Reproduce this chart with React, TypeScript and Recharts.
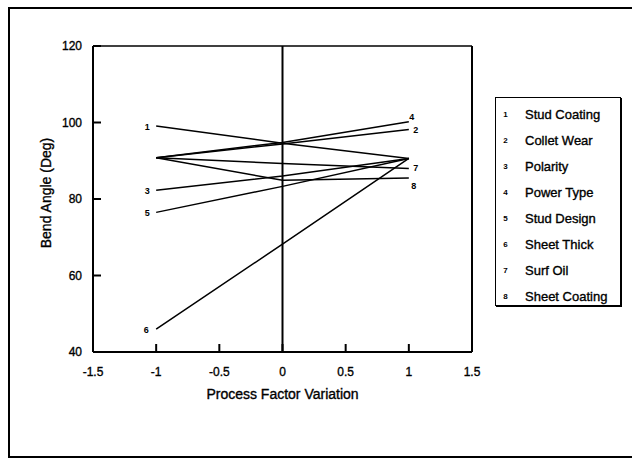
import React from "react";
import { Line, LineChart, ReferenceLine, XAxis, YAxis } from "recharts";

// factor levels on the x axis
const xLevels = [-1, 0, 1];

const factorNames = [
  "Stud Coating",
  "Collet Wear",
  "Polarity",
  "Power Type",
  "Stud Design",
  "Sheet Thick",
  "Surf Oil",
  "Sheet Coating"
];

// bend angle (deg) at each level
const studCoating = [99.1, 94.6, 90.6];
const colletWear = [90.8, 94.4, 98.2];
const polarity = [82.3, 86.0, 90.6];
const powerType = [90.8, 94.8, 100.2];
const studDesign = [76.5, 83.3, 90.6];
const sheetThick = [46.0, 68.2, 90.6];
const surfOil = [90.8, 89.3, 88.0];
const sheetCoating = [90.8, 84.9, 85.5];

const xTicks = [-1.5, -1, -0.5, 0, 0.5, 1, 1.5];
const yTicks = [40, 60, 80, 100, 120];

const seriesValues = [
  studCoating,
  colletWear,
  polarity,
  powerType,
  studDesign,
  sheetThick,
  surfOil,
  sheetCoating
];

const rows = xLevels.map((x, i) => {
  const row: Record<string, number> = { x };
  seriesValues.forEach((vals, s) => {
    row[`s${s + 1}`] = vals[i];
  });
  return row;
});

const FONT = "'Liberation Sans', Arial, Helvetica, sans-serif";
const INK = { stroke: "#000", strokeWidth: 0.35 };

// where each series number sits: which end of the line and a nudge
const labelSpots: Record<number, { index: number; dx: number; dy: number }> = {
  1: { index: 0, dx: -9, dy: 1 },
  2: { index: 2, dx: 7, dy: 1 },
  3: { index: 0, dx: -9, dy: 1 },
  4: { index: 2, dx: 3, dy: -5 },
  5: { index: 0, dx: -9, dy: 1 },
  6: { index: 0, dx: -10, dy: 1 },
  7: { index: 2, dx: 7, dy: 0 },
  8: { index: 2, dx: 5, dy: 8 }
};

function endLabel(num: number) {
  const spot = labelSpots[num];
  return (props: any) => {
    if (props.index !== spot.index) return null;
    return (
      <text
        key={`lbl-${num}-${props.index}`}
        x={props.x + spot.dx}
        y={props.y + spot.dy}
        textAnchor="middle"
        dominantBaseline="central"
        fontFamily={FONT}
        fontSize={9}
        fontWeight="bold"
        fill="#000"
      >
        {num}
      </text>
    );
  };
}

function YTick({ x, y, payload }: any) {
  return (
    <g>
      <line x1={x} y1={y} x2={x + 8} y2={y} stroke="#000" strokeWidth={2} />
      <text x={x - 11} y={y} dy="0.35em" textAnchor="end" fontFamily={FONT} fontSize={12} fill="#000" {...INK}>
        {payload.value}
      </text>
    </g>
  );
}

function XTick({ x, y, payload }: any) {
  return (
    <g>
      <line x1={x} y1={y} x2={x} y2={y - 8} stroke="#000" strokeWidth={2} />
      <text x={x} y={y + 20} dy="0.35em" textAnchor="middle" fontFamily={FONT} fontSize={12} fill="#000" {...INK}>
        {payload.value}
      </text>
    </g>
  );
}

function LegendBox() {
  return (
    <div
      style={{
        position: "absolute",
        left: 495,
        top: 97,
        width: 124,
        height: 207,
        border: "1.5px solid #000",
        boxShadow: "1px 1px 0 #000",
        fontFamily: FONT,
        background: "#fff"
      }}
    >
      {factorNames.map((name, i) => (
        <div
          key={name}
          style={{
            position: "absolute",
            left: 0,
            top: 16 + i * 26 - 9,
            height: 18,
            display: "flex",
            alignItems: "center",
            whiteSpace: "nowrap"
          }}
        >
          <span style={{ width: 19, textAlign: "center", fontSize: 8, fontWeight: "bold" }}>{i + 1}</span>
          <span style={{ marginLeft: 10, fontSize: 13, WebkitTextStroke: "0.35px #000" }}>{name}</span>
        </div>
      ))}
    </div>
  );
}

export default function App() {
  return (
    <div style={{ position: "absolute", left: 0, top: 0, width: 632, height: 458, background: "#fff" }}>
      <div
        style={{
          position: "absolute",
          left: 8,
          top: 7,
          width: 622,
          height: 447,
          borderLeft: "2px solid #000",
          borderTop: "2px solid #000",
          borderBottom: "2px solid #000",
          borderRight: "1px solid #888"
        }}
      />
      <div style={{ position: "absolute", left: 0, top: 0 }}>
        <LineChart width={632} height={458} data={rows} margin={{ top: 46, right: 160, bottom: 56, left: 0 }}>
          <XAxis
            dataKey="x"
            type="number"
            domain={[-1.5, 1.5]}
            ticks={xTicks}
            interval={0}
            tickSize={0}
            tickMargin={0}
            tick={<XTick />}
            axisLine={{ stroke: "#000", strokeWidth: 2 }}
            height={50}
            label={{
              content: ({ viewBox }: any) => (
                <text
                  x={viewBox.x + viewBox.width / 2}
                  y={viewBox.y + 42}
                  dy="0.35em"
                  textAnchor="middle"
                  fontFamily={FONT}
                  fontSize={14}
                  fill="#000"
                  {...INK}
                >
                  Process Factor Variation
                </text>
              )
            }}
          />
          <YAxis
            type="number"
            domain={[40, 120]}
            ticks={yTicks}
            interval={0}
            width={93}
            tickSize={0}
            tickMargin={0}
            tick={<YTick />}
            axisLine={{ stroke: "#000", strokeWidth: 2 }}
            label={{
              content: ({ viewBox }: any) => {
                const cx = 46;
                const cy = viewBox.y + viewBox.height / 2 - 6;
                return (
                  <text
                    x={cx}
                    y={cy}
                    dy="0.35em"
                    textAnchor="middle"
                    transform={`rotate(-90, ${cx}, ${cy})`}
                    fontFamily={FONT}
                    fontSize={14}
                    fill="#000"
                    {...INK}
                  >
                    Bend Angle (Deg)
                  </text>
                );
              }
            }}
          />
          <ReferenceLine y={120} stroke="#000" strokeWidth={1.5} />
          <ReferenceLine x={1.5} stroke="#000" strokeWidth={2} />
          <ReferenceLine x={0} stroke="#000" strokeWidth={2} />
          {factorNames.map((name, i) => (
            <Line
              key={name}
              name={name}
              dataKey={`s${i + 1}`}
              type="linear"
              stroke="#000"
              strokeWidth={1.5}
              dot={false}
              activeDot={false}
              label={endLabel(i + 1)}
              isAnimationActive={false}
            />
          ))}
        </LineChart>
      </div>
      <LegendBox />
    </div>
  );
}
